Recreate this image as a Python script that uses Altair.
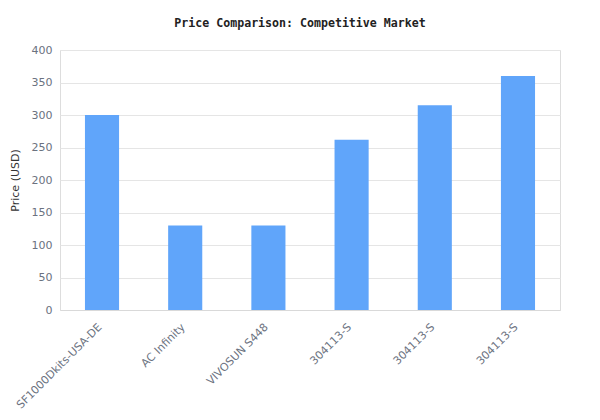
import altair as alt
import pandas as pd

keys = ["k1", "k2", "k3", "k4", "k5", "k6"]
labels = ["SF1000Dkits-USA-DE", "AC Infinity", "VIVOSUN S448", "304113-S", "304113-S", "304113-S"]
prices = [300, 130, 130, 262, 315, 360]

df = pd.DataFrame({"key": keys, "label": labels, "price": prices})

label_map = "{" + ",".join(f"'{k}':'{l}'" for k, l in zip(keys, labels)) + "}"

chart = alt.Chart(df).mark_bar(color="#60a5fa").encode(
    x=alt.X("key:N", sort=keys, title=None,
            scale=alt.Scale(paddingInner=0.59, paddingOuter=0.3),
            axis=alt.Axis(labelExpr=f"{label_map}[datum.value]", labelAngle=-45,
                          labelAlign="right", labelBaseline="top",
                          labelColor="#6b7280", labelFont="DejaVu Sans", labelFontSize=11,
                          ticks=False, domain=True, domainColor="#d9d9d9",
                          labelPadding=11, labelOffset=-6)),
    y=alt.Y("price:Q", title="Price (USD)",
            scale=alt.Scale(domain=[0, 400]),
            axis=alt.Axis(values=[0, 50, 100, 150, 200, 250, 300, 350, 400],
                          labelColor="#6b7280", labelFont="DejaVu Sans", labelFontSize=11,
                          ticks=False, domain=False, gridColor="#e5e5e5",
                          titleColor="#333333", titleFont="DejaVu Sans", titleFontSize=11,
                          titleFontWeight="normal", labelPadding=8, titlePadding=11)),
).properties(
    width=500, height=260,
    autosize=alt.AutoSizeParams(type="none"),
    padding={"left": 52, "top": 42, "right": 32, "bottom": 102},
    title=alt.TitleParams("Price Comparison: Competitive Market", font="DejaVu Sans Mono",
                          fontSize=11.6, fontWeight="bold", color="#222222", offset=14, dx=-10),
).configure_view(stroke="#d9d9d9").configure(background="white")

chart.save("out.html", embed_options={"renderer": "svg", "actions": False})
